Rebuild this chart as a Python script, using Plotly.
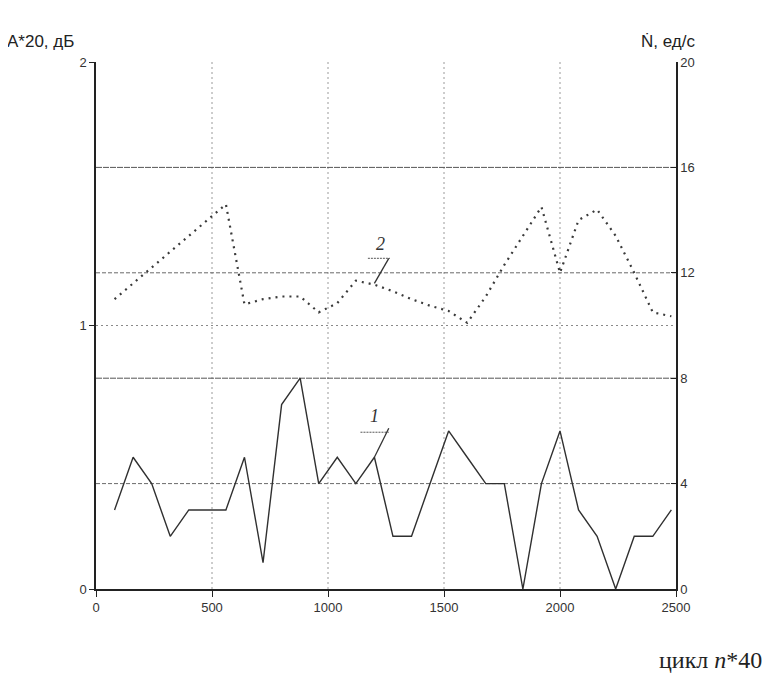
import plotly.graph_objects as go

# cycle (x), step 80
cycles = [80, 160, 240, 320, 400, 480, 560, 640, 720, 800, 880, 960, 1040, 1120, 1200,
          1280, 1360, 1440, 1520, 1600, 1680, 1760, 1840, 1920, 2000, 2080, 2160, 2240,
          2320, 2400, 2480]
# series 1: A*20, dB (left axis)
amp = [0.3, 0.5, 0.4, 0.2, 0.3, 0.3, 0.3, 0.5, 0.1, 0.7, 0.8, 0.4, 0.5, 0.4, 0.5,
       0.2, 0.2, 0.4, 0.6, 0.5, 0.4, 0.4, 0.0, 0.4, 0.6, 0.3, 0.2, 0.0,
       0.2, 0.2, 0.3]
# series 2: N, units/s (right axis)
rate = [11.0, 11.6, 12.2, 12.8, 13.4, 14.0, 14.6, 10.8, 11.0, 11.1, 11.1, 10.5, 10.85, 11.7, 11.55,
        11.3, 11.0, 10.75, 10.55, 10.1, 11.1, 12.3, 13.4, 14.5, 12.0, 14.0, 14.4, 13.4,
        12.0, 10.5, 10.35]

x_ticks = [0, 500, 1000, 1500, 2000, 2500]
left_ticks = [0, 1, 2]
right_ticks = [0, 4, 8, 12, 16, 20]

fig = go.Figure()
fig.add_trace(go.Scatter(x=cycles, y=amp, mode="lines", yaxis="y",
                         line=dict(color="#303030", width=1.4), showlegend=False))
fig.add_trace(go.Scatter(x=cycles, y=rate, mode="lines", yaxis="y2",
                         line=dict(color="#3a3a3a", width=2.2, dash="2px,5px"), showlegend=False))

shapes = []
# vertical dotted grid
for xv in [500, 1000, 1500, 2000]:
    shapes.append(dict(type="line", xref="x", yref="paper", x0=xv, x1=xv, y0=0, y1=1,
                       line=dict(color="#9a9a9a", width=1, dash="2px,3px"), layer="below"))
# horizontal grid (right-axis units)
hstyles = {4: ("#6a6a6a", "4px,2px"), 8: ("#555555", "6px,1px"),
           12: ("#6a6a6a", "4px,2px"), 16: ("#555555", "6px,1px")}
for yv, (c, d) in hstyles.items():
    shapes.append(dict(type="line", xref="x", yref="y2", x0=0, x1=2500, y0=yv, y1=yv,
                       line=dict(color=c, width=1, dash=d), layer="below"))
shapes.append(dict(type="line", xref="x", yref="y", x0=0, x1=2500, y0=1, y1=1,
                   line=dict(color="#8a8a8a", width=1, dash="2px,3px"), layer="below"))
# label leaders
shapes.append(dict(type="line", xref="x", yref="y", x0=1172, x1=1267, y0=1.255, y1=1.255,
                   line=dict(color="#555", width=1, dash="2px,1px")))
shapes.append(dict(type="line", xref="x", yref="y", x0=1200, x1=1262, y0=1.16, y1=1.255,
                   line=dict(color="#333", width=1.3)))
shapes.append(dict(type="line", xref="x", yref="y", x0=1140, x1=1262, y0=0.595, y1=0.595,
                   line=dict(color="#555", width=1, dash="2px,1px")))
shapes.append(dict(type="line", xref="x", yref="y", x0=1200, x1=1262, y0=0.5, y1=0.61,
                   line=dict(color="#333", width=1.3)))

serif = "Liberation Serif"
annotations = [
    dict(text="A*20, дБ", xref="paper", yref="paper", x=-0.157, y=1.038, xanchor="left",
         yanchor="middle", showarrow=False, font=dict(family="Liberation Sans", size=17, color="#222")),
    dict(text="Ṅ, ед/с", xref="paper", yref="paper", x=0.986, y=1.038, xanchor="center",
         yanchor="middle", showarrow=False, font=dict(family="Liberation Sans", size=17, color="#222")),
    dict(text="цикл <i>n</i>*40", xref="paper", yref="paper", x=1.059, y=-0.135, xanchor="center",
         yanchor="middle", showarrow=False, font=dict(family=serif, size=24, color="#222")),
    dict(text="<i>2</i>", xref="x", yref="y", x=1225, y=1.31, showarrow=False,
         font=dict(family=serif, size=18, color="#333")),
    dict(text="<i>1</i>", xref="x", yref="y", x=1200, y=0.655, showarrow=False,
         font=dict(family=serif, size=18, color="#333")),
]

tickfont = dict(family="Liberation Sans Narrow, Liberation Sans", size=13, color="#333")
fig.update_layout(
    width=770, height=682,
    margin=dict(l=88, r=102, t=54, b=101),
    paper_bgcolor="white", plot_bgcolor="white",
    xaxis=dict(range=[0, 2500], tickvals=x_ticks, ticktext=[str(v) for v in x_ticks],
               showgrid=False, zeroline=False, showline=True, linecolor="#222", linewidth=1.5,
               ticks="outside", ticklen=6, tickcolor="#222", tickfont=tickfont),
    yaxis=dict(range=[0, 2], tickvals=left_ticks, ticktext=[str(v) for v in left_ticks],
               showgrid=False, zeroline=False, showline=True, linecolor="#222", linewidth=1.5,
               ticks="outside", ticklen=5, tickcolor="#222", tickfont=tickfont),
    yaxis2=dict(range=[0, 20], tickvals=right_ticks, ticktext=[str(v) for v in right_ticks],
                overlaying="y", side="right", showgrid=False, zeroline=False, showline=True,
                linecolor="#222", linewidth=1.5, ticks="inside", ticklen=5, tickcolor="#222",
                tickfont=tickfont),
    shapes=shapes, annotations=annotations,
)
fig.write_html("out.html")
